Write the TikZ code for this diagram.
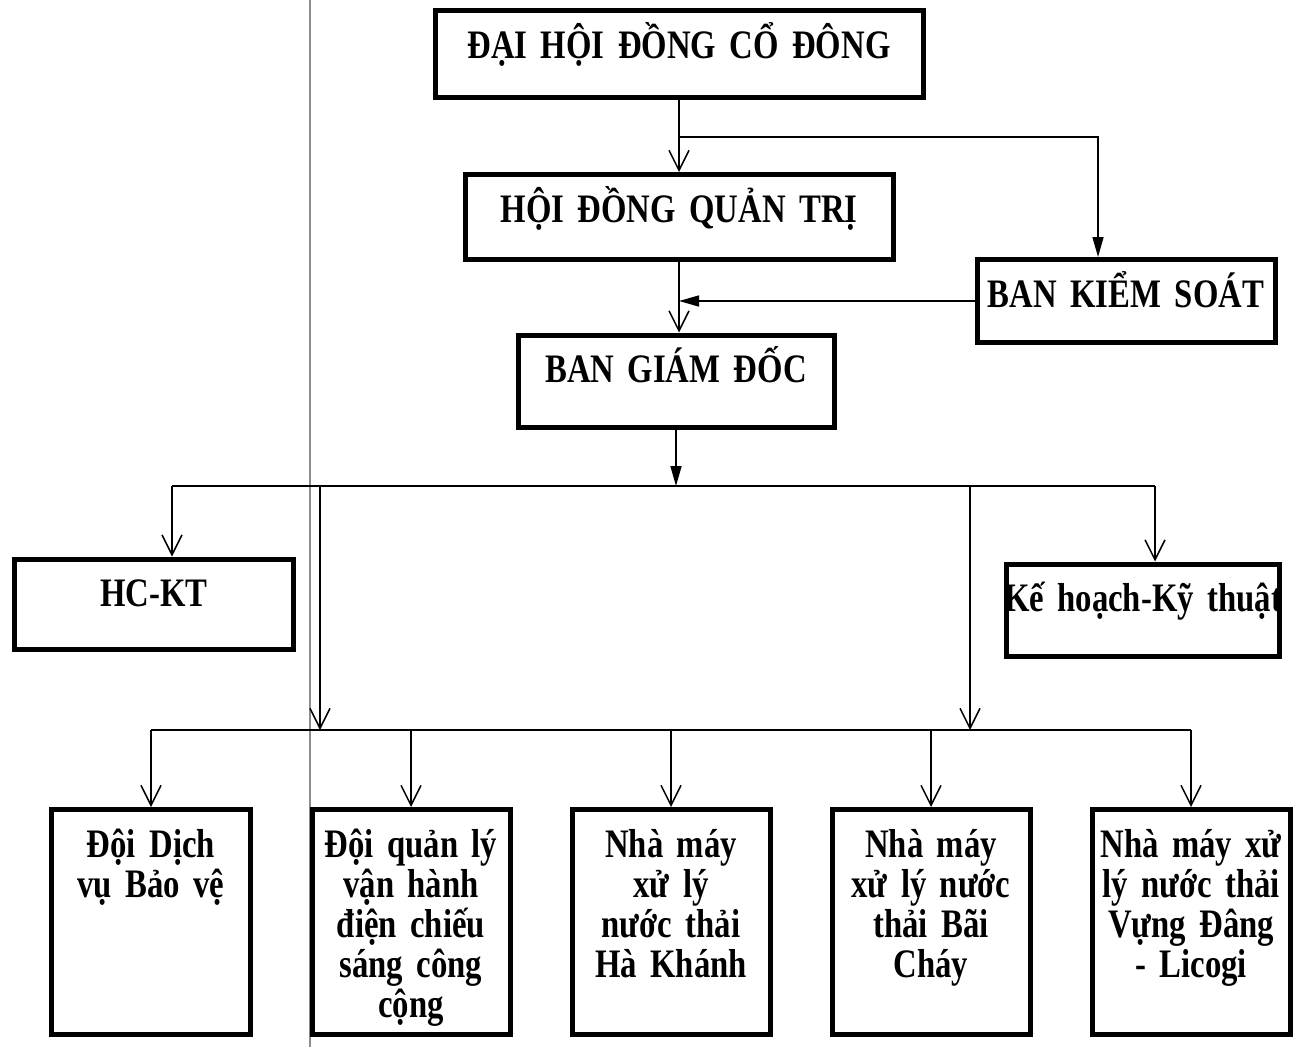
\documentclass[tikz,border=0pt]{standalone}
\usepackage{fontspec}
\setmainfont[FakeStretch=0.81]{Liberation Serif}
\usetikzlibrary{positioning, arrows.meta}

\begin{document}
\begin{tikzpicture}
    [
        x=0.2mm, y=-0.2mm, node distance=52mm and 52mm, on grid,
        font=\fontsize{23}{22.8}\selectfont\bfseries,
        unit_box/.style={rectangle, draw=black, line width=1mm, inner sep=0mm},
        unit_text/.style={anchor=base, yshift=-10mm, text width=100mm, align=center, inner sep=0mm},
        low_box/.style={unit_box, minimum width=39.6mm, minimum height=45mm},
        link/.style={line width=0.3mm, -{Straight Barb[length=4mm, width=4mm]}},
        link_filled/.style={line width=0.3mm, -{Triangle[length=4mm, width=2.2mm]}},
        bus/.style={line width=0.3mm},
    ]
        \useasboundingbox (0,0) rectangle (1294,1047) ;
        \draw[line width=0.3mm, color=black!45] (310,0) -- (310,1047) ;
        \node[unit_box, minimum width=97.6mm, minimum height=17.4mm, label={[unit_text]north:ĐẠI HỘI ĐỒNG CỔ ĐÔNG}] (dhcd) at (679,54) {} ;
        \node[unit_box, minimum width=85.6mm, minimum height=17mm, label={[unit_text]north:HỘI ĐỒNG QUẢN TRỊ}] (hdqt) at (679,217) {} ;
        \node[unit_box, minimum width=59.6mm, minimum height=16.6mm, label={[unit_text]north:BAN KIỂM SOÁT}] (bks) at (1126,301) {} ;
        \node[unit_box, minimum width=63.2mm, minimum height=18.4mm, label={[unit_text]north:BAN GIÁM ĐỐC}] (bgd) at (676,381) {} ;
        \node[unit_box, minimum width=55.8mm, minimum height=18mm, label={[unit_text]north:HC-KT}] (hckt) at (154,604) {} ;
        \node[unit_box, minimum width=54.6mm, minimum height=18.4mm, label={[unit_text]north:Kế hoạch-Kỹ thuật}] (khkt) at (1143,610) {} ;
        \node[low_box, label={[unit_text]north:{Đội Dịch\\vụ Bảo vệ}}] (b1) at (151,922) {} ;
        \node[low_box, label={[unit_text]north:{Đội quản lý\\vận hành\\điện chiếu\\sáng công\\cộng}}] (b2) [right = of b1] {} ;
        \node[low_box, label={[unit_text]north:{Nhà máy\\xử lý\\nước thải\\Hà Khánh}}] (b3) [right = of b2] {} ;
        \node[low_box, label={[unit_text]north:{Nhà máy\\xử lý nước\\thải Bãi\\Cháy}}] (b4) [right = of b3] {} ;
        \node[low_box, label={[unit_text]north:{Nhà máy xử\\lý nước thải\\Vựng Đâng\\- Licogi}}] (b5) [right = of b4] {} ;
        \coordinate (ks_split) at (dhcd.south |- 0,137) ;
        \coordinate (bus_top) at (bgd.south |- 0,486) ;
        \coordinate (bus_low) at (bgd.south |- 0,730) ;
        \coordinate (hc_in) at ([xshift=3.6mm]hckt.north) ;
        \coordinate (kh_in) at ([xshift=2.4mm]khkt.north) ;
        \coordinate (drop_left) at (320,730) ;
        \coordinate (drop_right) at (970,730) ;
        \draw[link] (dhcd.south) -- (hdqt.north) ;
        \draw[link_filled] (ks_split) -| ([xshift=-5.6mm]bks.north) ;
        \draw[link] (hdqt.south) -- (hdqt.south |- bgd.north) ;
        \draw[link_filled] (bks.west) -- (bks.west -| hdqt.south) ;
        \draw[link_filled] (bgd.south) -- (bus_top) ;
        \draw[bus] (hc_in |- bus_top) -- (kh_in |- bus_top) ;
        \draw[link] (hc_in |- bus_top) -- (hc_in) ;
        \draw[link] (kh_in |- bus_top) -- (kh_in) ;
        \draw[link] (drop_left |- bus_top) -- (drop_left) ;
        \draw[link] (drop_right |- bus_top) -- (drop_right) ;
        \draw[bus] (b1.north |- bus_low) -- (b5.north |- bus_low) ;
        \draw[link] (b1.north |- bus_low) -- (b1.north) ;
        \draw[link] (b2.north |- bus_low) -- (b2.north) ;
        \draw[link] (b3.north |- bus_low) -- (b3.north) ;
        \draw[link] (b4.north |- bus_low) -- (b4.north) ;
        \draw[link] (b5.north |- bus_low) -- (b5.north) ;
    \end{tikzpicture}
\end{document}
